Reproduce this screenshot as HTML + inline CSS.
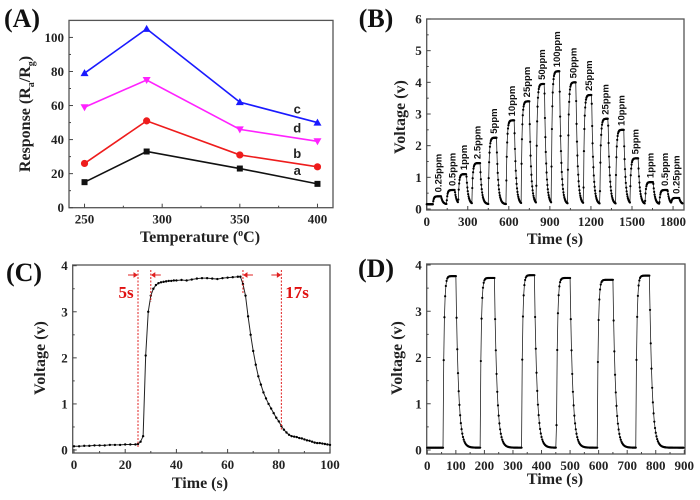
<!DOCTYPE html>
<html><head><meta charset="utf-8"><style>
html,body{margin:0;padding:0;background:#fff}
svg{display:block}
.tk{font-family:"Liberation Serif",serif;font-weight:bold;font-size:13px;fill:#222}
.at{font-family:"Liberation Serif",serif;font-weight:bold;font-size:16px;fill:#222}
.pl{font-family:"Liberation Serif",serif;font-weight:bold;font-size:26px;fill:#111}
.pp{font-family:"Liberation Sans",sans-serif;font-weight:bold;font-size:9.5px;fill:#111}
</style></head><body>
<svg id="fig" width="700" height="500" viewBox="0 0 700 500" xmlns="http://www.w3.org/2000/svg"></svg>
<script>
// ---------- Panel A data ----------
const tempsA = [250, 290, 350, 400];
const seriesA_a = [15, 33, 23, 14];
const seriesA_b = [26, 51, 31, 24];
const seriesA_d = [59, 75, 46, 39];
const seriesA_c = [79, 105, 62, 50];
const ticksAx = [250, 300, 350, 400];
const ticksAy = [0, 20, 40, 60, 80, 100];
// ---------- Panel B data ----------
const pulseStartB = [45,145,230,330,450,580,690,800,910,1030,1145,1265,1380,1485,1595,1700,1785];
const pulsePeakB = [0.4,0.6,1.1,1.45,2.25,2.8,3.4,3.95,4.35,4.0,3.6,2.85,2.5,1.6,0.85,0.6,0.35];
const pulseLabelB = ["0.25ppm","0.5ppm","1ppm","2.5ppm","5ppm","10ppm","25ppm","50ppm","100ppm","50ppm","25ppm","25ppm","10ppm","5ppm","1ppm","0.5ppm","0.25ppm"];
const ticksBx = [0,300,600,900,1200,1500,1800];
const ticksBy = [0,1,2,3,4,5,6];
// ---------- Panel C data ----------
const timeC = [0,2,4,6,8,10,12,14,16,18,20,22,24,25,26,27,28,29,30,31,32,33,34,35,36,37,38,39,40,42,44,46,48,50,52,54,56,58,60,62,64,65,66,67,68,69,70,71,72,73,74,75,76,77,78,79,80,81,82,83,84,85,86,87,88,89,90,91,92,93,94,95,96,97,98,99,100];
const voltC = [0.08,0.08,0.09,0.09,0.1,0.1,0.1,0.11,0.11,0.11,0.12,0.12,0.12,0.13,0.18,0.3,2.05,3.0,3.35,3.5,3.58,3.62,3.64,3.65,3.66,3.67,3.67,3.68,3.68,3.69,3.68,3.7,3.72,3.73,3.73,3.72,3.71,3.73,3.74,3.75,3.76,3.76,3.6,3.35,2.9,2.5,2.15,1.85,1.6,1.42,1.25,1.12,1.0,0.9,0.8,0.7,0.62,0.52,0.44,0.38,0.33,0.3,0.29,0.28,0.26,0.25,0.23,0.21,0.2,0.18,0.16,0.15,0.15,0.14,0.13,0.12,0.11];
const ticksCx = [0,20,40,60,80,100];
const ticksCy = [0,1,2,3,4];
const markersC = [25, 30, 66, 81];
// ---------- Panel D data ----------
const pulseStartD = [55,185,330,452,595,730];
const pulseEndD = [100,235,375,500,650,778];
const pulsePeakD = [3.76,3.72,3.78,3.72,3.68,3.77];
const ticksDx = [0,100,200,300,400,500,600,700,800,900];
const ticksDy = [0,1,2,3,4];

const NS = "http://www.w3.org/2000/svg";
const svg = document.getElementById('fig');
function mk(tag, attrs, parent){const e=document.createElementNS(NS,tag);for(const k in attrs)e.setAttribute(k,attrs[k]);(parent||svg).appendChild(e);return e;}
function scale(d0,d1,r0,r1){return v=>r0+(v-d0)*(r1-r0)/(d1-d0);}

function frame(name,x0,y0,x1,y1,xs,ys,xt,yt,minorX,minorY){
  const g=mk('g',{});
  
  
  const r=mk('rect',{x:x0,y:y0,width:x1-x0,height:y1-y0,fill:'none',stroke:'#555','stroke-width':1.3},g);
  
  
  xt.forEach(v=>{const x=xs(v);mk('line',{x1:x,x2:x,y1:y1,y2:y1-4,stroke:'#444','stroke-width':1},g);
    const t=mk('text',{x:x,y:y1+16,'text-anchor':'middle',class:'tk'},g);t.textContent=v;
    });
  minorX.forEach(v=>{const x=xs(v);mk('line',{x1:x,x2:x,y1:y1,y2:y1-2,stroke:'#444','stroke-width':1},g);});
  yt.forEach(v=>{const y=ys(v);mk('line',{x1:x0,x2:x0+4,y1:y,y2:y,stroke:'#444','stroke-width':1},g);
    const t=mk('text',{x:x0-5,y:y+4.5,'text-anchor':'end',class:'tk'},g);t.textContent=v;
    });
  minorY.forEach(v=>{const y=ys(v);mk('line',{x1:x0,x2:x0+2,y1:y,y2:y,stroke:'#444','stroke-width':1},g);});
}
function label(txt,x,y,cls,name,rot){
  const t=mk('text',{x:x,y:y,class:cls,'text-anchor':'middle'});
  if(rot)t.setAttribute('transform','rotate(-90 '+x+' '+y+')');
  t.textContent=txt;
  
  
  return t;
}
function poly(pts,color,name,w){
  const p=mk('polyline',{points:pts.map(q=>q[0].toFixed(2)+','+q[1].toFixed(2)).join(' '),fill:'none',stroke:color,'stroke-width':w||1});
  
  
}
function dots(pts,name,r){
  const g=mk('g',{fill:'#000'});
  
  
  pts.forEach(q=>mk('circle',{cx:q[0].toFixed(2),cy:q[1].toFixed(2),r:r||1.2},g));
}

// ================= Panel A =================
(function(){
  const xs=scale(240,410,69,333), ys=scale(0,110,207.7,20.4);
  frame('panel-a',69,20.4,333,207.7,xs,ys,ticksAx,ticksAy,[275,325,375],[10,30,50,70,90]);
  label('(A)',22,27,'pl','panel-a-label');
  const tt=mk('text',{x:200,y:242,class:'at','text-anchor':'middle'});
  tt.innerHTML='Temperature (<tspan font-size="10" dy="-6">o</tspan><tspan dy="6">C)</tspan>';
  
  const yt=mk('text',{x:30,y:114,class:'at','text-anchor':'middle',transform:'rotate(-90 30 114)'});
  yt.innerHTML='Response (R<tspan font-size="10" dy="4">a</tspan><tspan dy="-4">/R</tspan><tspan font-size="10" dy="4">g</tspan><tspan dy="-4">)</tspan>';
  
  const defs=[[seriesA_a,'#111','sq','a'],[seriesA_b,'#ee1c1c','ci','b'],[seriesA_d,'#ff22ff','td','d'],[seriesA_c,'#1a1aff','tu','c']];
  defs.forEach(([vals,col,m,n])=>{
    const pts=tempsA.map((t,i)=>[xs(t),ys(vals[i])]);
    poly(pts,col,'series-'+n+'-line',1.6);
    const g=mk('g',{fill:col});
    
    
    pts.forEach(([x,y])=>{
      if(m==='sq')mk('rect',{x:x-3,y:y-3,width:6,height:6},g);
      else if(m==='ci')mk('circle',{cx:x,cy:y,r:3.6},g);
      else if(m==='tu')mk('polygon',{points:`${x-4},${y+3} ${x+4},${y+3} ${x},${y-4}`},g);
      else mk('polygon',{points:`${x-4},${y-3} ${x+4},${y-3} ${x},${y+4}`},g);
    });
    const last=pts[pts.length-1];
    const t=mk('text',{x:xs(387),y:last[1]-9,class:'tk','text-anchor':'middle'});
    t.setAttribute('style','font-family:"Liberation Sans",sans-serif;font-size:13px');
    t.textContent=n;
    
    
  });
})();

// pulse shape generator (response + recovery)
function pulseCurve(starts,ends,peaks,base,tauR,tauD,t0,t1,dt){
  const pts=[];
  for(let t=t0;t<=t1;t+=dt){
    let v=base;
    for(let i=0;i<starts.length;i++){
      const s=starts[i],e=ends[i],p=peaks[i];
      if(t>=s&&t<=e){v=Math.max(v,base+(p-base)*(1-Math.exp(-(t-s)/tauR)));}
      else if(t>e){const ve=base+(p-base)*(1-Math.exp(-(e-s)/tauR));v=Math.max(v,base+(ve-base)*Math.exp(-(t-e)/tauD));}
    }
    pts.push([t,v]);
  }
  return pts;
}

// ================= Panel B =================
(function(){
  const xs=scale(0,1880,426.7,684), ys=scale(0,6,209,19);
  frame('panel-b',426.7,19,684,210,xs,ys,ticksBx,ticksBy,[150,450,750,1050,1350,1650],[0.5,1.5,2.5,3.5,4.5,5.5]);
  label('(B)',376,27,'pl','panel-b-label');
  label('Time (s)',555,244,'at','panel-b-x-axis-title');
  label('Voltage (v)',405,117,'at','panel-b-y-axis-title',true);
  const ends=pulseStartB.map(s=>s+60);
  const raw=pulseCurve(pulseStartB,ends,pulsePeakB,0.15,6,12,0,1870,3);
  const pts=raw.map(([t,v])=>[xs(t),ys(v)]);
  poly(pts,'#222','panel-b-signal-line',0.8);
  dots(pts,'panel-b-signal-points',1.1);
  pulseStartB.forEach((s,i)=>{
    const x=xs(s+42)+3, y=ys(pulsePeakB[i])-4;
    const t=mk('text',{x:x,y:y,class:'pp',transform:`rotate(-90 ${x} ${y})`});
    t.textContent=pulseLabelB[i];
    
    
  });
})();

// ================= Panel C =================
(function(){
  const xs=scale(0,100,74,330), ys=scale(0,4,450,265.7);
  frame('panel-c',72.7,265,330,453,xs,ys,ticksCx,ticksCy,[10,30,50,70,90],[0.5,1.5,2.5,3.5]);
  label('(C)',24,281,'pl','panel-c-label');
  label('Time (s)',200,488,'at','panel-c-x-axis-title');
  label('Voltage (v)',45,358,'at','panel-c-y-axis-title',true);
  const pts=timeC.map((t,i)=>[xs(t),ys(voltC[i])]);
  poly(pts,'#222','panel-c-signal-line',1);
  dots(pts,'panel-c-signal-points',1.2);
  const lens=[447,302,293,430];
  markersC.forEach((m,i)=>{
    const x=xs(m);
    const l=mk('line',{x1:x,x2:x,y1:270,y2:lens[i],stroke:'#e02020','stroke-width':1,'stroke-dasharray':'2,1.5'});
    
    
    const dir=(i===0||i===3)?1:-1;
    const ax=dir===1?x-1:x+1, bx=dir===1?x-10:x+10;
    const a=mk('g',{stroke:'#e02020',fill:'#e02020','stroke-width':1});
    
    
    mk('line',{x1:bx,x2:ax,y1:275,y2:275},a);
    mk('polygon',{points:`${ax},275 ${ax-3*dir},273 ${ax-3*dir},277`},a);
  });
  const t1=mk('text',{x:126,y:298,class:'at','text-anchor':'middle',style:'fill:#e01010;font-size:17px'});t1.textContent='5s';
  
  const t2=mk('text',{x:297,y:298,class:'at','text-anchor':'middle',style:'fill:#e01010;font-size:17px'});t2.textContent='17s';
  
})();

// ================= Panel D =================
(function(){
  const xs=scale(0,900,427.3,684.3), ys=scale(0,4,450,265);
  frame('panel-d',426.7,264,685,454,xs,ys,ticksDx,ticksDy,[50,150,250,350,450,550,650,750,850],[0.5,1.5,2.5,3.5]);
  label('(D)',376,277,'pl','panel-d-label');
  label('Time (s)',555,484,'at','panel-d-x-axis-title');
  label('Voltage (v)',402,358,'at','panel-d-y-axis-title',true);
  const raw=pulseCurve(pulseStartD,pulseEndD,pulsePeakD,0.05,3.5,9,0,898,2.5);
  const pts=raw.map(([t,v])=>[xs(t),ys(v)]);
  poly(pts,'#222','panel-d-signal-line',0.8);
  dots(pts,'panel-d-signal-points',1.1);
})();
</script>
</body></html>
